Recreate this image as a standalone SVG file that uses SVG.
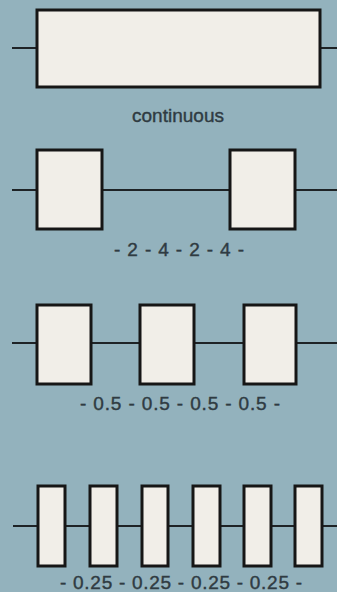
<svg xmlns="http://www.w3.org/2000/svg" width="337" height="592" viewBox="0 0 337 592">
<style>
.bg{fill:#93b2bd}
.box{fill:#f1eee8;stroke:#161616;stroke-width:3}
.wire{stroke:#1e2326;stroke-width:2;fill:none}
.lbl{font-family:"Liberation Sans",Arial,sans-serif;font-size:19px;fill:#2f3b42;stroke:#2f3b42;stroke-width:0.4;text-anchor:middle}
</style>
<rect class="bg" x="0" y="0" width="337" height="592"/>
<g id="connectors">
<line class="wire" x1="12" y1="48" x2="337" y2="48"/>
<line class="wire" x1="12" y1="190" x2="337" y2="190"/>
<line class="wire" x1="12" y1="343" x2="337" y2="343"/>
<line class="wire" x1="13" y1="526" x2="337" y2="526"/>
</g>
<g id="row-continuous">
<rect class="box" x="37" y="10" width="283" height="77"/>
<text class="lbl" x="178" y="122" textLength="92">continuous</text>
</g>
<g id="row-2-4">
<rect class="box" x="37" y="150" width="65" height="79"/>
<rect class="box" x="230" y="150" width="65" height="79"/>
<text class="lbl" x="179" y="256" textLength="130">- 2 - 4 - 2 - 4 -</text>
</g>
<g id="row-0-5">
<rect class="box" x="37" y="305" width="54" height="79"/>
<rect class="box" x="140" y="305" width="54" height="79"/>
<rect class="box" x="244" y="305" width="52" height="79"/>
<text class="lbl" x="180" y="410" textLength="200">- 0.5 - 0.5 - 0.5 - 0.5 -</text>
</g>
<g id="row-0-25">
<rect class="box" x="38" y="486" width="27" height="80"/>
<rect class="box" x="90" y="486" width="27" height="80"/>
<rect class="box" x="142" y="486" width="26" height="80"/>
<rect class="box" x="193" y="486" width="27" height="80"/>
<rect class="box" x="244" y="486" width="27" height="80"/>
<rect class="box" x="295" y="486" width="27" height="80"/>
<text class="lbl" x="181" y="589" textLength="242">- 0.25 - 0.25 - 0.25 - 0.25 -</text>
</g>
</svg>
